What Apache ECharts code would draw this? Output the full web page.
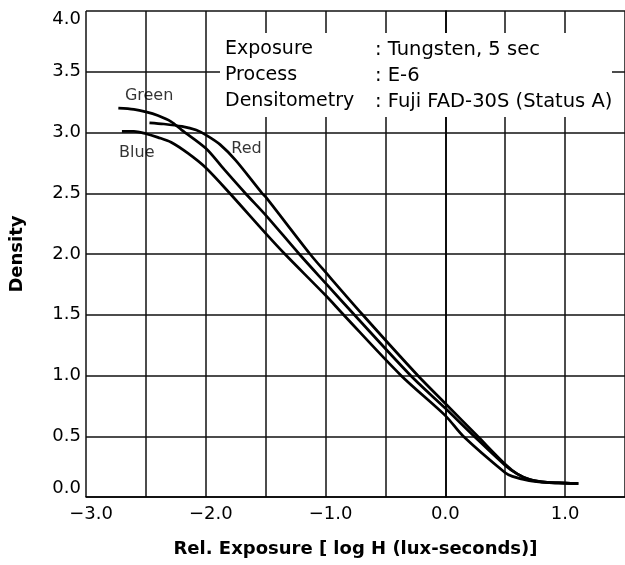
<!DOCTYPE html>
<html>
<head>
<meta charset="utf-8">
<script src="https://cdn.jsdelivr.net/npm/echarts@6/dist/echarts.min.js"></script>
<style>
html,body{margin:0;padding:0;background:#fff;overflow:hidden;}
#chart{width:625px;height:565px;}
</style>
</head>
<body>
<div id="chart"></div>
<script>
// Data (x = log H, y = density)
const greenCurve = [[-2.73,3.20],[-2.6,3.19],[-2.5,3.17],[-2.4,3.14],[-2.29,3.09],[-2.2,3.02],[-2.0,2.87],[-1.85,2.70],[-1.67,2.50],[-1.5,2.32],[-1.22,2.0],[-1.0,1.76],[-0.76,1.5],[-0.29,1.0],[0.0,0.73],[0.24,0.5],[0.5,0.26],[0.6,0.19],[0.7,0.145],[0.85,0.12],[1.0,0.115],[1.11,0.11]];
const redCurve = [[-2.47,3.08],[-2.35,3.07],[-2.2,3.05],[-2.08,3.02],[-2.0,2.98],[-1.88,2.90],[-1.75,2.77],[-1.53,2.50],[-1.5,2.47],[-1.13,2.0],[-1.0,1.85],[-0.69,1.5],[-0.23,1.0],[0.0,0.77],[0.27,0.5],[0.5,0.27],[0.6,0.19],[0.7,0.145],[0.85,0.12],[1.0,0.115],[1.11,0.11]];
const blueCurve = [[-2.70,3.01],[-2.6,3.01],[-2.5,2.99],[-2.4,2.96],[-2.29,2.92],[-2.15,2.83],[-2.0,2.71],[-1.8,2.50],[-1.5,2.17],[-1.34,2.0],[-1.0,1.66],[-0.85,1.5],[-0.37,1.0],[0.0,0.67],[0.15,0.5],[0.5,0.20],[0.56,0.17],[0.7,0.135],[0.85,0.12],[1.0,0.115],[1.11,0.11]];
const curveLabels = [
  {name:'Green', value:[-2.473,3.30]},
  {name:'Blue', value:[-2.576,2.83]},
  {name:'Red', value:[-1.66,2.864]}
];
const infoKeys = ['Exposure','Process','Densitometry'];
const infoValues = [': Tungsten, 5 sec',': E-6',': Fuji FAD-30S (Status A)'];
const xAxisName = 'Rel. Exposure [ log H (lux-seconds)]';
const yAxisName = 'Density';

const FONT = 'DejaVu Sans';
const chart = echarts.init(document.getElementById('chart'));

const lineStyle = {color:'#000', width:2.7};
function curve(data){
  return {type:'line', data:data, smooth:0.3, showSymbol:false, symbol:'none',
    lineStyle:lineStyle, z:5, silent:true};
}

const graphics = [{
  type:'rect', left:220, top:33, shape:{width:392,height:84}, style:{fill:'#fff'}, z:100, silent:true
}];
infoKeys.forEach((k,i)=>{
  graphics.push({type:'text', left:225, top:40+i*26, z:101, silent:true,
    style:{text:k, font:'19px "DejaVu Sans"', fill:'#000'}});
  graphics.push({type:'text', left:375, top:40+i*26, z:101, silent:true,
    style:{text:infoValues[i], font:'19.5px "DejaVu Sans"', fill:'#000'}});
});

chart.setOption({
  animation:false,
  backgroundColor:'#fff',
  textStyle:{fontFamily:FONT},
  grid:{left:81, top:11, right:-3, bottom:68, containLabel:false},
  xAxis:{
    type:'value', min:-3, max:1.5, interval:0.5,
    name:xAxisName, nameLocation:'middle', nameGap:43,
    nameTextStyle:{fontFamily:FONT, fontWeight:'bold', fontSize:18, color:'#000'},
    axisLine:{show:true, lineStyle:{color:'#000', width:1.6}},
    axisTick:{show:false},
    splitLine:{show:true, lineStyle:{color:'#111', width:1.5}},
    axisLabel:{
      color:'#000', fontSize:18, fontFamily:FONT, margin:8, showMaxLabel:false,
      formatter:function(v){
        if (Math.abs(v - Math.round(v)) > 1e-6) return '';
        if (v < 0) return '{neg|\u2212' + Math.abs(v).toFixed(1) + '}';
        return '{pos|' + v.toFixed(1) + '}';
      },
      rich:{neg:{fontSize:18, fontFamily:FONT, color:'#000', padding:[0,0,0,10]}, pos:{fontSize:18, fontFamily:FONT, color:'#000'}}
    }
  },
  yAxis:{
    type:'value', min:0, max:4, interval:0.5,
    name:yAxisName, nameLocation:'middle', nameGap:60, nameRotate:90,
    nameTextStyle:{fontFamily:FONT, fontWeight:'bold', fontSize:18, color:'#000'},
    axisLine:{show:true, lineStyle:{color:'#000', width:1.6}},
    axisTick:{show:false},
    splitLine:{show:true, lineStyle:{color:'#111', width:1.5}},
    axisLabel:{
      color:'#000', fontSize:18, fontFamily:FONT, margin:5,
      formatter:function(v){
        if (v >= 4) return '{top|' + v.toFixed(1) + '}';
        if (v <= 0) return '{bot|' + v.toFixed(1) + '}';
        return v.toFixed(1);
      },
      rich:{
        top:{fontSize:18, fontFamily:FONT, color:'#000', padding:[16,0,0,0]},
        bot:{fontSize:18, fontFamily:FONT, color:'#000', padding:[0,0,18,0]}
      }
    }
  },
  series:[
    curve(greenCurve),
    curve(redCurve),
    curve(blueCurve),
    {type:'scatter', data:curveLabels, symbolSize:0, silent:true, z:6,
      label:{show:true, position:'inside', formatter:'{b}', color:'#000', fontSize:16, fontFamily:FONT}}
  ],
  graphic:graphics
});
</script>
</body>
</html>
